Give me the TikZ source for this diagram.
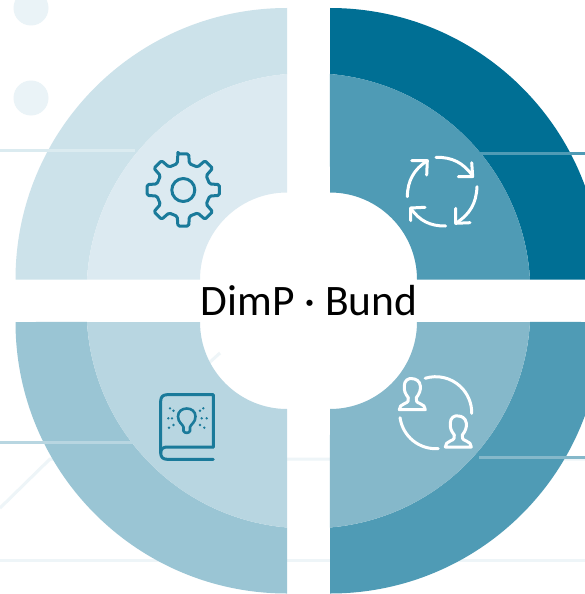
\documentclass[tikz,border=0pt]{standalone}
\usepackage{fontspec}
\setmainfont{Carlito}
\definecolor{tlO}{HTML}{CCE2EA}
\definecolor{tlI}{HTML}{DCEAF1}
\definecolor{trO}{HTML}{006F94}
\definecolor{trI}{HTML}{4F9BB5}
\definecolor{blO}{HTML}{9AC5D4}
\definecolor{blI}{HTML}{B8D6E1}
\definecolor{brO}{HTML}{4F9BB5}
\definecolor{brI}{HTML}{85B8CA}
\definecolor{faint}{HTML}{EEF5F8}
\definecolor{dotc}{HTML}{EAF3F7}
\definecolor{iconc}{HTML}{1A7A9A}
\tikzset{
  bgline/.style={draw=faint,line width=3pt},
  tick/.style={line width=3pt},
  iconline/.style={draw=iconc,line width=3pt,line cap=round,line join=round},
  whiteline/.style={draw=white,line width=3pt,line cap=round,line join=round},
}
% cx cy xscale yscale outercolour innercolour
\newcommand{\quadpart}[6]{%
  \begin{scope}[shift={(#1,#2)},xscale=#3,yscale=#4]
    \fill[#5] (271.5pt,0pt) arc[start angle=0,end angle=90,radius=271.5pt]
      -- (0pt,205.5pt) arc[start angle=85.15,end angle=3.3,radius=218.9pt] -- cycle;
    \fill[#6] (200pt,0pt) arc[start angle=3.3,end angle=85.15,radius=218.9pt]
      -- (0pt,87pt) arc[start angle=90,end angle=0,radius=87pt] -- cycle;
  \end{scope}}
\newcommand{\person}[3]{%
  \begin{scope}[shift={(#1,#2)}]
    \draw[#3] (-13,0) -- (13,0)
      .. controls (13,-3) and (11,-5) .. (8,-6)
      .. controls (4,-7.5) and (3.5,-9) .. (4,-12)
      .. controls (7,-16) and (8.5,-19) .. (8,-24)
      .. controls (7.5,-29) and (3,-31) .. (0,-31)
      .. controls (-4,-32) and (-8,-29) .. (-8,-24)
      .. controls (-8.5,-19) and (-7,-16) .. (-4,-12)
      .. controls (-3.5,-9) and (-4,-7.5) .. (-8,-6)
      .. controls (-11,-5) and (-13,-3) .. (-13,0) -- cycle;
  \end{scope}}
\begin{document}
\begin{tikzpicture}[x=1pt,y=-1pt]
\useasboundingbox (0,0) rectangle (585,594);
\fill[white] (0,0) rectangle (585,594);
% background decoration
\fill[dotc] (31,8) circle[radius=17.5pt];
\fill[dotc] (31,98) circle[radius=17.5pt];
\draw[bgline] (0,560) -- (585,560);
\draw[bgline] (0,508) -- (50,459) -- (585,459);
\draw[bgline] (190,380) -- (220,353);
% quadrants
\quadpart{287}{279.5}{-1}{1}{tlO}{tlI}
\quadpart{330}{279.5}{1}{1}{trO}{trI}
\quadpart{287}{322}{-1}{-1}{blO}{blI}
\quadpart{330}{322}{1}{-1}{brO}{brI}
% ticks
\draw[tick,draw=tlO!70!white] (0,150.7) -- (135,150.7);
\draw[tick,draw=trI] (479,153) -- (585,153);
\draw[tick,draw=blI] (0,442.5) -- (133,442.5);
\draw[tick,draw=brI] (479,457) -- (585,457);
% gear
\begin{scope}[shift={(183.3,190)}]
  \draw[iconline,rounded corners=1.5pt]
    (98.5:36.5pt) \foreach \a in {90,45,0,-45,-90,-135,-180,-225}
      { -- (\a+8.5:36.5pt) -- (\a-8.5:36.5pt) -- (\a-13:27pt) -- (\a-32:27pt) } -- cycle;
  \draw[iconline] (0,0) circle[radius=11.5pt];
\end{scope}
% refresh arrows
\draw[whiteline] (436,157.3) to[bend left=28] (472.7,176);
\draw[whiteline] (471.7,162.7) -- (472.7,176.5) -- (458.3,176.7);
\draw[whiteline] (477,186.7) to[bend left=28] (455.7,223.3);
\draw[whiteline] (455.7,208.3) -- (455.7,223.3) -- (470,222.7);
\draw[whiteline] (445.7,226) to[bend left=28] (410.7,208.3);
\draw[whiteline] (425,207.3) -- (410.7,208) -- (410.7,220.7);
\draw[whiteline] (407.3,196.7) to[bend left=28] (427.3,160.7);
\draw[whiteline] (411.7,160.7) -- (427.3,160.7) -- (426.7,175);
% book
\draw[iconline] (213.3,447) -- (213.3,394.7) -- (167,394.7)
  .. controls (163,394.7) and (160.7,397) .. (160.7,401) -- (160.7,453)
  .. controls (160.7,457) and (163,459.3) .. (167,459.3) -- (213.3,459.3);
\draw[iconline] (213.3,447) -- (167,447) .. controls (163,447) and (160.7,449) .. (160.7,453);
\draw[iconline,line width=2.6pt] (183.5,431) -- (183.5,427)
  .. controls (182.5,424) and (178,422.5) .. (178,416.5)
  .. controls (178,411.5) and (182,408.5) .. (186.7,408.5)
  .. controls (191.5,408.5) and (195.5,411.5) .. (195.5,416.5)
  .. controls (195.5,422.5) and (191,424) .. (190,427) -- (190,431)
  .. controls (189,433.5) and (184.5,433.5) .. (183.5,431) -- cycle;
\foreach \dx/\dy in {168.3/418.3,172/418.3,173.5/410.7,170/408.3,173.5/425,169/427.7,
                     200/410.7,203.3/408.3,201.7/418.3,206.7/418.3,200/425,204.3/427.7}
  \fill[iconc] (\dx,\dy) circle[radius=1.3pt];
% people exchange
\begin{scope}[shift={(435.7,412.7)}]
  \draw[whiteline] (107:36pt) arc[start angle=107,end angle=-1,radius=36pt];
  \draw[whiteline] (188:36pt) arc[start angle=188,end angle=274,radius=36pt];
\end{scope}
\person{412.3}{409.7}{whiteline}
\person{458.3}{447}{whiteline}
% title
\node[text=black,inner sep=0pt,anchor=base,font=\fontsize{43.5}{44}\selectfont] (title) at (309,315.5) {DimP · Bund};
\end{tikzpicture}
\end{document}
